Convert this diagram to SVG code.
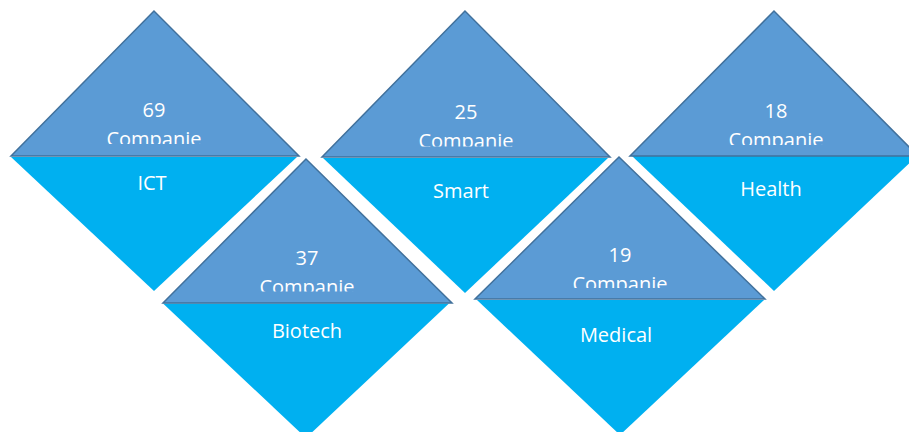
<svg xmlns="http://www.w3.org/2000/svg" width="909" height="432" viewBox="0 0 909 432">
  <style>
    .up { fill: #5B9BD5; stroke: #41719C; stroke-width: 1.5; stroke-linejoin: miter; }
    .lo { fill: #00B0F0; stroke: none; }
    text { font-family: "Open Sans", "Liberation Sans", sans-serif; font-size: 20px; fill: #FFFFFF; text-anchor: middle; }
  </style>
  <defs>
    <clipPath id="c1" clipPathUnits="userSpaceOnUse"><rect x="0" y="0" width="909" height="144"/></clipPath>
    <clipPath id="c2" clipPathUnits="userSpaceOnUse"><rect x="0" y="0" width="909" height="146.5"/></clipPath>
    <clipPath id="c3" clipPathUnits="userSpaceOnUse"><rect x="0" y="0" width="909" height="145"/></clipPath>
    <clipPath id="c4" clipPathUnits="userSpaceOnUse"><rect x="0" y="0" width="909" height="291.5"/></clipPath>
    <clipPath id="c5" clipPathUnits="userSpaceOnUse"><rect x="0" y="0" width="909" height="288"/></clipPath>
  </defs>
  <g id="connectors"></g>
  <g id="node-ict">
    <polygon class="lo" points="11,157 297,157 154,291"/>
    <polygon class="up" points="154,11 11,156 299,156"/>
    <text x="154" y="117">69</text>
    <text x="154" y="145.5" clip-path="url(#c1)">Companie</text>
    <text x="152" y="190">ICT</text>
  </g>
  <g id="node-smart">
    <polygon class="lo" points="323,158 608,158 465,293"/>
    <polygon class="up" points="465,11 322,157 610,157"/>
    <text x="466" y="119">25</text>
    <text x="466" y="148" clip-path="url(#c2)">Companie</text>
    <text x="461" y="198">Smart</text>
  </g>
  <g id="node-health">
    <polygon class="lo" points="632,156 917,156 774,291"/>
    <polygon class="up" points="774,11 630,156 918,156"/>
    <text x="776" y="118">18</text>
    <text x="776" y="146.5" clip-path="url(#c3)">Companie</text>
    <text x="771" y="196">Health</text>
  </g>
  <g id="node-biotech">
    <polygon class="lo" points="163,303.5 449,303.5 306,438"/>
    <polygon class="up" points="306,159 163,303 452,303"/>
    <text x="307" y="265">37</text>
    <text x="307" y="293.5" clip-path="url(#c4)">Companie</text>
    <text x="307" y="338">Biotech</text>
  </g>
  <g id="node-medical">
    <polygon class="lo" points="477,300 764,300 620,435"/>
    <polygon class="up" points="619,157 475,299 765,299"/>
    <text x="620" y="262">19</text>
    <text x="620" y="290.5" clip-path="url(#c5)">Companie</text>
    <text x="616" y="342">Medical</text>
  </g>
</svg>
